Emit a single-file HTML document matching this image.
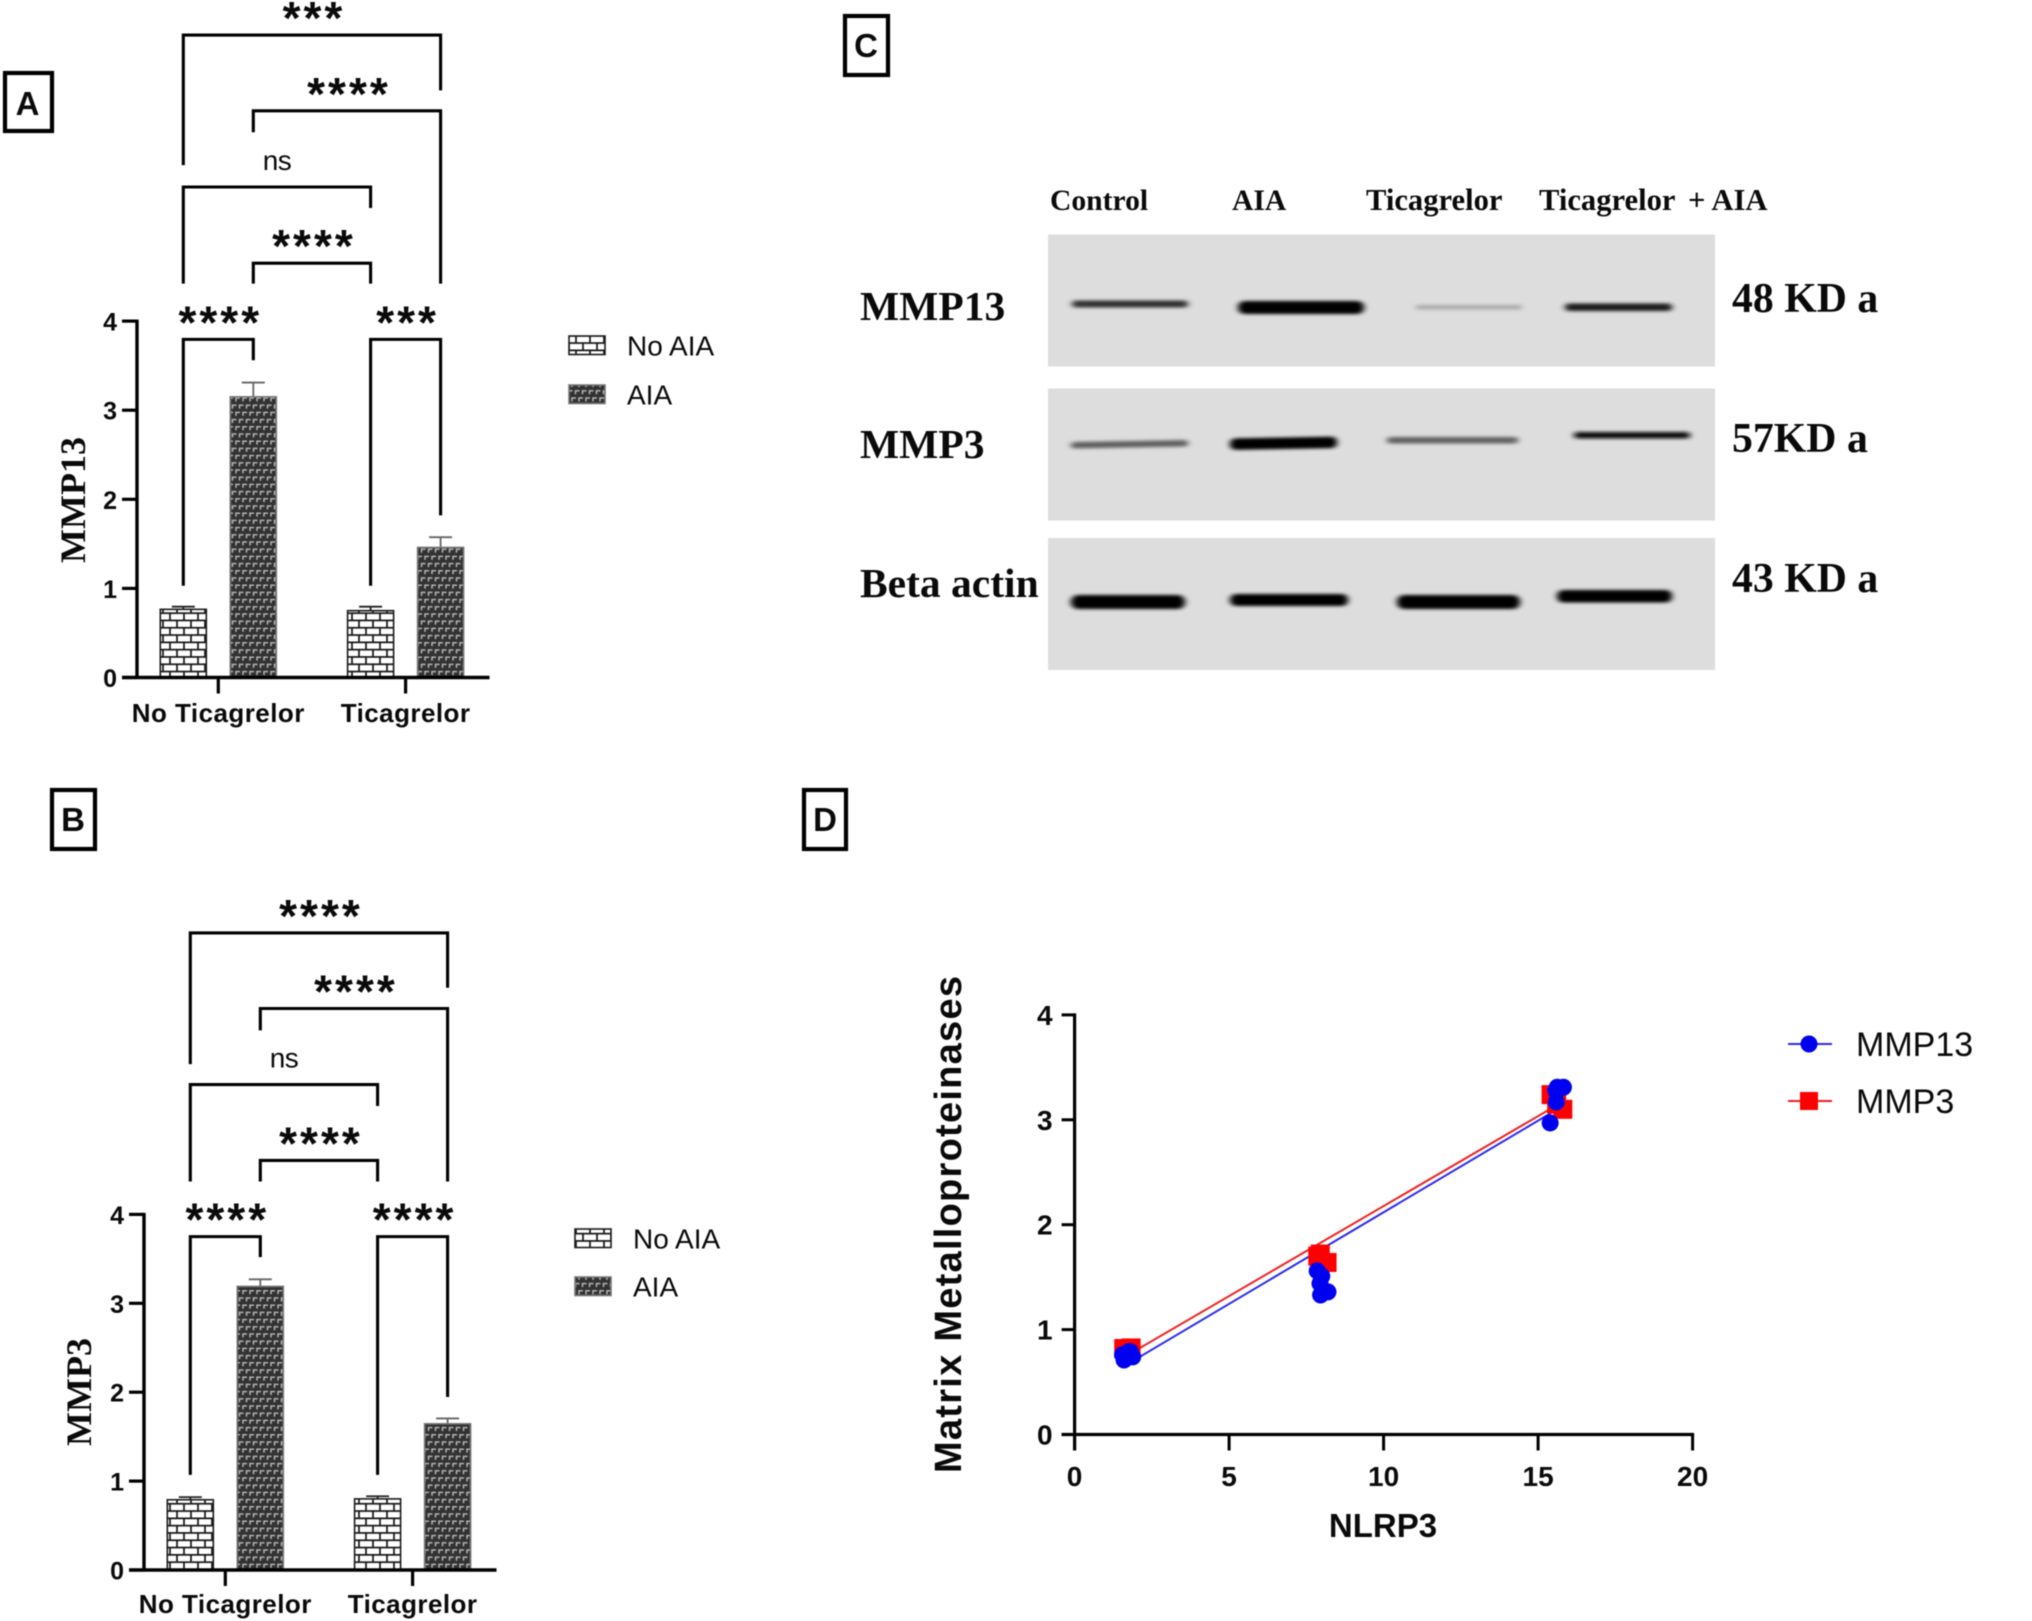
<!DOCTYPE html>
<html lang="en">
<head>
<meta charset="utf-8">
<title>MMP13 and MMP3 figure</title>
<style>
html,body{margin:0;padding:0;background:#fff;}
body{width:2032px;height:1621px;overflow:hidden;}
svg{display:block;filter:blur(0.55px);}
text{font-family:"Liberation Sans",sans-serif;fill:#0a0a0a;}
.serif{font-family:"Liberation Serif",serif;font-weight:bold;}
</style>
</head>
<body>
<svg id="fig" xmlns="http://www.w3.org/2000/svg" width="2032" height="1621" viewBox="0 0 2032 1621">
<defs>
  <pattern id="brick" patternUnits="userSpaceOnUse" width="14" height="14.6" patternTransform="translate(160,605)">
    <rect width="14" height="14.6" fill="#fff"/>
    <path d="M0 .9H14M0 8.2H14M3 .9V8.2M10 8.2V14.6" stroke="#151515" stroke-width="1.7" fill="none"/>
  </pattern>
  <pattern id="darkweave" patternUnits="userSpaceOnUse" width="14" height="14.4">
    <rect width="14" height="14.4" fill="#323232"/>
    <path d="M1.5 5.5V2H5.5M8.5 5.5V2H12.5M5 12.7V9.2H9M12 12.7V9.2H14M0 9.2H2" stroke="#b4b4b4" stroke-width="1.5" fill="none"/>
  </pattern>
  <filter id="b1" x="-20%" y="-300%" width="140%" height="700%"><feGaussianBlur stdDeviation="3.2 1.6"/></filter>
</defs>

<g>
  <g><rect x="5" y="73" width="47" height="58" fill="none" stroke="#000" stroke-width="4.2"/><text x="27.5" y="115" text-anchor="middle" font-size="33" font-weight="bold">A</text></g>
  <g><rect x="52" y="790" width="43" height="59" fill="none" stroke="#000" stroke-width="4.2"/><text x="73" y="831" text-anchor="middle" font-size="33" font-weight="bold">B</text></g>
  <g><rect x="845" y="16" width="43" height="59" fill="none" stroke="#000" stroke-width="4.2"/><text x="866" y="57" text-anchor="middle" font-size="33" font-weight="bold">C</text></g>
  <g><rect x="804" y="790" width="42" height="59" fill="none" stroke="#000" stroke-width="4.2"/><text x="825" y="831" text-anchor="middle" font-size="33" font-weight="bold">D</text></g>
</g>

<g id="panelA"></g>
<g id="panelB"></g>

<g>
  <g>
    <text class="serif" x="1050" y="210" font-size="29.6">Control</text>
    <text class="serif" x="1232" y="210" font-size="29.6">AIA</text>
    <text class="serif" x="1366" y="210" font-size="30.6">Ticagrelor</text>
    <text class="serif" x="1539" y="210" font-size="30.6">Ticagrelor<tspan x="1688">+ AIA</tspan></text>
  </g>
  <g>
    <rect x="1048" y="234.5" width="667" height="132" fill="#dddddd"/>
    <rect x="1072" y="300.5" width="116" height="7" rx="3.5" fill="#333" filter="url(#b1)"/>
    <rect x="1238" y="301" width="126" height="13" rx="6.5" fill="#000" filter="url(#b1)"/>
    <rect x="1416" y="305" width="106" height="4.5" rx="2" fill="#aaa" filter="url(#b1)"/>
    <rect x="1565" y="303.5" width="107" height="7.5" rx="3.5" fill="#1e1e1e" filter="url(#b1)"/>
  </g>
  <g>
    <rect x="1048" y="388.5" width="667" height="132" fill="#dddddd"/>
    <rect x="1071" y="441" width="117" height="6.5" rx="3" fill="#5e5e5e" filter="url(#b1)" transform="rotate(-1 1130 444)"/>
    <rect x="1230" y="437.5" width="107" height="11.5" rx="5.5" fill="#000" filter="url(#b1)" transform="rotate(-1 1283 443)"/>
    <rect x="1387" y="437" width="131" height="6.5" rx="3" fill="#626262" filter="url(#b1)"/>
    <rect x="1574" y="432" width="116" height="6.5" rx="3" fill="#111" filter="url(#b1)"/>
  </g>
  <g>
    <rect x="1048" y="538" width="667" height="132" fill="#dddddd"/>
    <rect x="1071" y="595" width="114" height="14" rx="7" fill="#000" filter="url(#b1)"/>
    <rect x="1230" y="594" width="118" height="12" rx="6" fill="#000" filter="url(#b1)"/>
    <rect x="1397" y="595" width="123" height="14" rx="7" fill="#000" filter="url(#b1)"/>
    <rect x="1557" y="590" width="115" height="12.5" rx="6" fill="#000" filter="url(#b1)"/>
  </g>
  <g>
    <text class="serif" x="860" y="320" font-size="41.5">MMP13</text>
    <text class="serif" x="860" y="458" font-size="41.5">MMP3</text>
    <text class="serif" x="860" y="597" font-size="41.5">Beta actin</text>
  </g>
  <g>
    <text class="serif" x="1732" y="312" font-size="41.8">48 KD a</text>
    <text class="serif" x="1732" y="452" font-size="41.8">57KD a</text>
    <text class="serif" x="1732" y="592" font-size="41.8">43 KD a</text>
  </g>
</g>

<g id="panelD"></g>
</svg>

<script>
/* Panel A data */
var groupLabels = ['No Ticagrelor', 'Ticagrelor'];
var barTicks = [0, 1, 2, 3, 4];
var seriesNames = ['No AIA', 'AIA'];
var mmp13NoAia = [0.765, 0.75];
var mmp13Aia = [3.15, 1.46];
var mmp13NoAiaErr = [0.03, 0.045];
var mmp13AiaErr = [0.16, 0.115];
var aBracketFrom = [0, 1, 0, 1, 0, 2];
var aBracketTo = [3, 3, 2, 2, 1, 3];
var aBracketTop = [7.21, 6.36, 5.505, 4.65, 3.795, 3.795];
var aBracketLeftEnd = [5.75, 6.12, 4.42, 4.42, 1.03, 1.03];
var aBracketRightEnd = [6.59, 4.42, 5.27, 4.42, 3.56, 1.82];
var aBracketLabels = ['***', '****', 'ns', '****', '****', '***'];

/* Panel B data */
var mmp3NoAia = [0.79, 0.80];
var mmp3Aia = [3.19, 1.645];
var mmp3NoAiaErr = [0.03, 0.03];
var mmp3AiaErr = [0.08, 0.06];
var bBracketFrom = [0, 1, 0, 1, 0, 2];
var bBracketTo = [3, 3, 2, 2, 1, 3];
var bBracketTop = [7.166, 6.316, 5.46, 4.607, 3.75, 3.75];
var bBracketLeftEnd = [5.69, 6.07, 4.37, 4.37, 1.07, 1.07];
var bBracketRightEnd = [6.55, 4.37, 5.22, 4.37, 3.52, 1.946];
var bBracketLabels = ['****', '****', 'ns', '****', '****', '****'];

/* Panel D data */
var scatterXTicks = [0, 5, 10, 15, 20];
var scatterYTicks = [0, 1, 2, 3, 4];
var mmp13X = [1.6, 1.7, 1.75, 1.88, 1.8, 1.55, 7.85, 8.0, 7.94, 7.96, 8.2, 15.39, 15.57, 15.82, 15.62, 15.59];
var mmp13Y = [0.71, 0.76, 0.79, 0.74, 0.79, 0.76, 1.56, 1.51, 1.44, 1.33, 1.36, 2.97, 3.28, 3.31, 3.31, 3.17];
var mmp3X = [1.59, 1.83, 1.7, 7.87, 8.17, 7.95, 15.42, 15.8, 15.6];
var mmp3Y = [0.82, 0.825, 0.78, 1.70, 1.64, 1.72, 3.24, 3.10, 3.15];
var fitX = [1.65, 15.82];
var mmp13FitY = [0.66, 3.135];
var mmp3FitY = [0.745, 3.176];

var NS = 'http://www.w3.org/2000/svg';
function mk(parent, tag, attrs, txt) {
  var e = document.createElementNS(NS, tag);
  for (var k in attrs) { e.setAttribute(k, attrs[k]); }
  if (txt !== undefined) { e.textContent = txt; }
  parent.appendChild(e);
  return e;
}

function drawBarPanel(root, cfg) {
  function yS(v) { return cfg.y0 - v * cfg.k; }
  function groupX(i) { return cfg.g0 + i * 187.3; }
  function barX(i) { return groupX(Math.floor(i / 2)) + (i % 2 === 0 ? -35 : 35); }
  var el;

  var bars = mk(root, 'g', {});
  
  
  for (var g = 0; g < groupLabels.length; g++) {
    for (var s = 0; s < 2; s++) {
      var val = s === 0 ? cfg.noAia[g] : cfg.aia[g];
      var err = s === 0 ? cfg.noAiaErr[g] : cfg.aiaErr[g];
      var cx = groupX(g) + (s === 0 ? -35 : 35);
      var col = s === 0 ? '#222' : '#666';
      el = mk(bars, 'line', {x1: cx, x2: cx, y1: yS(val), y2: yS(val + err), stroke: col, 'stroke-width': 1.8});
      
      
      el = mk(bars, 'line', {x1: cx - 11.5, x2: cx + 11.5, y1: yS(val + err), y2: yS(val + err), stroke: col, 'stroke-width': 1.8});
      
      
      el = mk(bars, 'rect', {x: cx - 23, y: yS(val), width: 46, height: yS(0) - yS(val), fill: s === 0 ? 'url(#brick)' : 'url(#darkweave)', stroke: s === 0 ? '#1c1c1c' : '#777', 'stroke-width': 1.6});
      
      
    }
  }

  var axes = mk(root, 'g', {});
  
  
  el = mk(axes, 'line', {x1: cfg.ax, x2: cfg.ax, y1: yS(4) - 1.5, y2: yS(0), stroke: '#000', 'stroke-width': 3.4});
  
  
  el = mk(axes, 'line', {x1: cfg.ax - 15, x2: cfg.ax + 352.5, y1: yS(0), y2: yS(0), stroke: '#000', 'stroke-width': 3.4});
  
  
  barTicks.forEach(function (t) {
    var m = mk(axes, 'line', {x1: cfg.ax - 15, x2: cfg.ax, y1: yS(t), y2: yS(t), stroke: '#000', 'stroke-width': 3.2});
    
    
    var l = mk(axes, 'text', {x: cfg.ax - 20, y: yS(t) + 9.5, 'text-anchor': 'end', 'font-size': 25, 'font-weight': 'bold'}, String(t));
    
    
  });
  groupLabels.forEach(function (name, i) {
    var m = mk(axes, 'line', {x1: groupX(i), x2: groupX(i), y1: yS(0), y2: yS(0) + 16, stroke: '#000', 'stroke-width': 3.2});
    
    
    var l = mk(axes, 'text', {x: groupX(i), y: cfg.labelY, 'text-anchor': 'middle', 'font-size': 26, 'font-weight': 'bold', 'letter-spacing': 0.45}, name);
    
    
  });
  el = mk(root, 'text', {class: 'serif', 'font-size': 36, 'text-anchor': 'middle', transform: 'translate(' + cfg.titleX + ',' + cfg.titleY + ') rotate(-90)'}, cfg.title);
  
  

  var brs = mk(root, 'g', {});
  
  
  for (var b = 0; b < cfg.bTop.length; b++) {
    var xa = barX(cfg.bFrom[b]), xb = barX(cfg.bTo[b]);
    var d = 'M' + xa + ' ' + yS(cfg.bLeft[b]) + 'V' + yS(cfg.bTop[b]) + 'H' + xb + 'V' + yS(cfg.bRight[b]);
    el = mk(brs, 'path', {d: d, fill: 'none', stroke: '#000', 'stroke-width': 3.1});
    
    
    var mid = (xa + xb) / 2;
    if (cfg.bLabels[b] === 'ns') {
      el = mk(brs, 'text', {x: mid, y: yS(cfg.bTop[b]) - 17, 'text-anchor': 'middle', 'font-size': 28, 'letter-spacing': -0.6}, 'ns');
    } else {
      el = mk(brs, 'text', {x: mid + 2, y: yS(cfg.bTop[b]) - 1, 'text-anchor': 'middle', 'font-size': 46, 'font-weight': 'bold', 'letter-spacing': 3}, cfg.bLabels[b]);
    }
    
    
  }

  var leg = mk(root, 'g', {});
  
  
  seriesNames.forEach(function (name, i) {
    var sw = mk(leg, 'rect', {x: cfg.legX, y: cfg.legY[i], width: 36, height: 18.5, fill: i === 0 ? 'url(#brick)' : 'url(#darkweave)', stroke: i === 0 ? '#1c1c1c' : '#777', 'stroke-width': 1.6});
    
    
    var t = mk(leg, 'text', {x: cfg.legX + 58, y: cfg.legY[i] + 19.5, 'font-size': 28}, name);
    
    
  });
}

drawBarPanel(document.getElementById('panelA'), {
  y0: 677.5, k: 89.1, g0: 218.3, ax: 137, labelY: 722, title: 'MMP13', titleX: 85, titleY: 500,
  noAia: mmp13NoAia, aia: mmp13Aia, noAiaErr: mmp13NoAiaErr, aiaErr: mmp13AiaErr,
  bFrom: aBracketFrom, bTo: aBracketTo, bTop: aBracketTop, bLeft: aBracketLeftEnd, bRight: aBracketRightEnd, bLabels: aBracketLabels,
  legX: 569, legY: [336, 385]
});
drawBarPanel(document.getElementById('panelB'), {
  y0: 1570, k: 88.9, g0: 225.3, ax: 144, labelY: 1613, title: 'MMP3', titleX: 91, titleY: 1392,
  noAia: mmp3NoAia, aia: mmp3Aia, noAiaErr: mmp3NoAiaErr, aiaErr: mmp3AiaErr,
  bFrom: bBracketFrom, bTo: bBracketTo, bTop: bBracketTop, bLeft: bBracketLeftEnd, bRight: bBracketRightEnd, bLabels: bBracketLabels,
  legX: 575, legY: [1229, 1277]
});

(function () {
  var root = document.getElementById('panelD');
  function xS(v) { return 1074.6 + v * 30.9; }
  function yS(v) { return 1434.5 - v * 104.9; }
  var el;
  var axes = mk(root, 'g', {});
  
  
  el = mk(axes, 'line', {x1: xS(0), x2: xS(0), y1: yS(4) - 1.5, y2: yS(0) + 16, stroke: '#000', 'stroke-width': 3.2});
  
  
  el = mk(axes, 'line', {x1: xS(0) - 13, x2: xS(20) + 1.5, y1: yS(0), y2: yS(0), stroke: '#000', 'stroke-width': 3.2});
  
  
  scatterXTicks.forEach(function (t) {
    var m = mk(axes, 'line', {x1: xS(t), x2: xS(t), y1: yS(0), y2: yS(0) + 16, stroke: '#000', 'stroke-width': 3});
    
    
    var l = mk(axes, 'text', {x: xS(t), y: 1486, 'text-anchor': 'middle', 'font-size': 28, 'font-weight': 'bold'}, String(t));
    
    
  });
  scatterYTicks.forEach(function (t) {
    var m = mk(axes, 'line', {x1: xS(0) - 13, x2: xS(0), y1: yS(t), y2: yS(t), stroke: '#000', 'stroke-width': 3});
    
    
    var l = mk(axes, 'text', {x: xS(0) - 22, y: yS(t) + 10, 'text-anchor': 'end', 'font-size': 28, 'font-weight': 'bold'}, String(t));
    
    
  });
  el = mk(root, 'text', {x: 1383, y: 1537, 'text-anchor': 'middle', 'font-size': 33, 'font-weight': 'bold'}, 'NLRP3');
  
  
  el = mk(root, 'text', {'text-anchor': 'middle', 'font-size': 38, 'font-weight': 'bold', textLength: 497, lengthAdjust: 'spacing', transform: 'translate(961,1224.5) rotate(-90)'}, 'Matrix Metalloproteinases');
  
  

  el = mk(root, 'line', {x1: xS(fitX[0]), x2: xS(fitX[1]), y1: yS(mmp13FitY[0]), y2: yS(mmp13FitY[1]), stroke: '#2a2aee', 'stroke-width': 2});
  
  
  el = mk(root, 'line', {x1: xS(fitX[0]), x2: xS(fitX[1]), y1: yS(mmp3FitY[0]), y2: yS(mmp3FitY[1]), stroke: '#f02020', 'stroke-width': 2});
  
  

  mmp3X.forEach(function (x, i) {
    var p = mk(root, 'rect', {x: xS(x) - 9.5, y: yS(mmp3Y[i]) - 9.5, width: 19, height: 19, fill: '#ff0000'});
    
    
  });
  mmp13X.forEach(function (x, i) {
    var p = mk(root, 'circle', {cx: xS(x), cy: yS(mmp13Y[i]), r: 8.5, fill: '#0000f0'});
    
    
  });

  var leg = mk(root, 'g', {});
  
  
  el = mk(leg, 'line', {x1: 1788, x2: 1832, y1: 1044, y2: 1044, stroke: '#2a2aee', 'stroke-width': 2});
  
  
  el = mk(leg, 'circle', {cx: 1809, cy: 1044, r: 8.5, fill: '#0000f0'});
  
  
  el = mk(leg, 'text', {x: 1856, y: 1056, 'font-size': 34}, 'MMP13');
  
  
  el = mk(leg, 'line', {x1: 1788, x2: 1832, y1: 1101, y2: 1101, stroke: '#f02020', 'stroke-width': 2});
  
  
  el = mk(leg, 'rect', {x: 1800, y: 1092, width: 18, height: 18, fill: '#ff0000'});
  
  
  el = mk(leg, 'text', {x: 1856, y: 1113, 'font-size': 34}, 'MMP3');
  
  
})();
</script>
</body>
</html>
